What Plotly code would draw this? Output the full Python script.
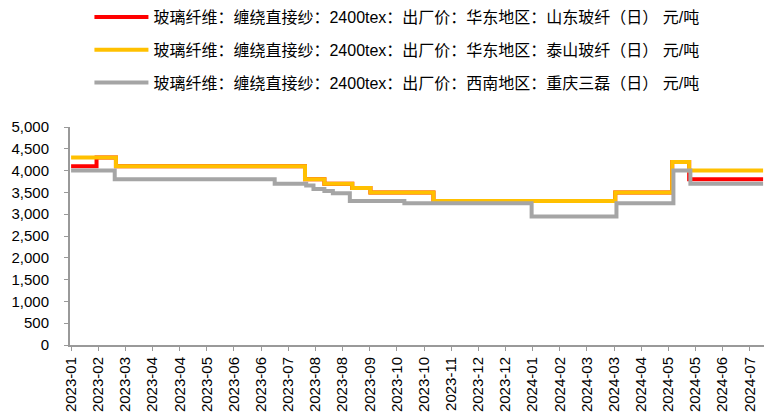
import datetime as dt
import plotly.graph_objects as go

# ---- data (step-change points) ----
shandong_dates = ["2023-01-03", "2023-01-24", "2023-02-09", "2023-07-15", "2023-07-31",
                  "2023-08-23", "2023-09-07", "2023-10-29", "2024-03-27", "2024-05-13",
                  "2024-05-27", "2024-07-27"]
shandong = [4100, 4300, 4100, 3800, 3700, 3600, 3500, 3300, 3500, 4200, 3800, 3800]

taishan_dates = ["2023-01-03", "2023-02-09", "2023-07-15", "2023-07-31", "2023-08-23",
                 "2023-09-07", "2023-10-29", "2024-03-27", "2024-05-13", "2024-05-27",
                 "2024-07-27"]
taishan = [4300, 4100, 3800, 3700, 3600, 3500, 3300, 3500, 4200, 4000, 4000]

chongqing_dates = ["2023-01-03", "2023-02-08", "2023-06-20", "2023-07-16", "2023-07-22",
                   "2023-07-31", "2023-08-07", "2023-08-21", "2023-10-05", "2024-01-18",
                   "2024-03-28", "2024-05-14", "2024-05-28", "2024-07-27"]
chongqing = [4000, 3800, 3700, 3660, 3580, 3530, 3480, 3300, 3250, 2950, 3250, 4000, 3700, 3700]

tick_labels = ["2023-01", "2023-02", "2023-03", "2023-04", "2023-04", "2023-05", "2023-06",
               "2023-06", "2023-07", "2023-08", "2023-08", "2023-09", "2023-10", "2023-10",
               "2023-11", "2023-12", "2023-12", "2024-01", "2024-02", "2024-03", "2024-03",
               "2024-04", "2024-05", "2024-05", "2024-06", "2024-07"]

names = [
    "玻璃纤维：缠绕直接纱：2400tex：出厂价：华东地区：山东玻纤（日） 元/吨",
    "玻璃纤维：缠绕直接纱：2400tex：出厂价：华东地区：泰山玻纤（日） 元/吨",
    "玻璃纤维：缠绕直接纱：2400tex：出厂价：西南地区：重庆三磊（日） 元/吨",
]
colors = ["#FF0000", "#FFC000", "#A5A5A5"]

# ---- ticks: evenly spaced along the date axis ----
start = dt.datetime(2023, 1, 3)
step_days = 22.4
tick_vals = [start + dt.timedelta(days=i * step_days) for i in range(len(tick_labels))]
x_range = [start - dt.timedelta(days=0.9), dt.datetime(2024, 7, 27, 18)]

font_family = "Liberation Sans, Arial, Noto Sans CJK SC, sans-serif"

fig = go.Figure()
for i, (xs, ys) in enumerate([(shandong_dates, shandong), (taishan_dates, taishan),
                              (chongqing_dates, chongqing)]):
    fig.add_trace(go.Scatter(
        x=xs, y=ys, mode="lines", name=names[i], legendgroup=f"g{i}",
        line=dict(color=colors[i], width=4, shape="hv"),
    ))

fig.update_layout(
    width=764, height=415,
    margin=dict(l=70, r=0, t=127, b=70),
    paper_bgcolor="white", plot_bgcolor="white",
    font=dict(family=font_family, size=15, color="#000000"),
    showlegend=True,
    legend=dict(
        x=0.028, y=1.585, xanchor="left", yanchor="top",
        orientation="v", tracegroupgap=9, itemwidth=54,
        font=dict(size=16, color="#000000"),
        bgcolor="rgba(0,0,0,0)",
    ),
    xaxis=dict(
        type="date", range=x_range,
        tickmode="array", tickvals=tick_vals, ticktext=tick_labels,
        tickangle=-90, ticks="outside", ticklen=4, tickcolor="#999999",
        showline=True, linecolor="#999999", linewidth=2,
        showgrid=False, zeroline=False,
        tickfont=dict(size=15, color="#000000"),
    ),
    yaxis=dict(
        range=[0, 5000], dtick=500, tickformat=",d",
        ticks="outside", ticklen=4, tickcolor="#999999",
        showline=True, linecolor="#999999", linewidth=2,
        showgrid=False, zeroline=False,
        tickfont=dict(size=15, color="#000000"),
        ticklabelstandoff=12,
    ),
)

fig.write_html("out.html", config={"displayModeBar": False},
               post_script="document.body.style.margin='0px';")
